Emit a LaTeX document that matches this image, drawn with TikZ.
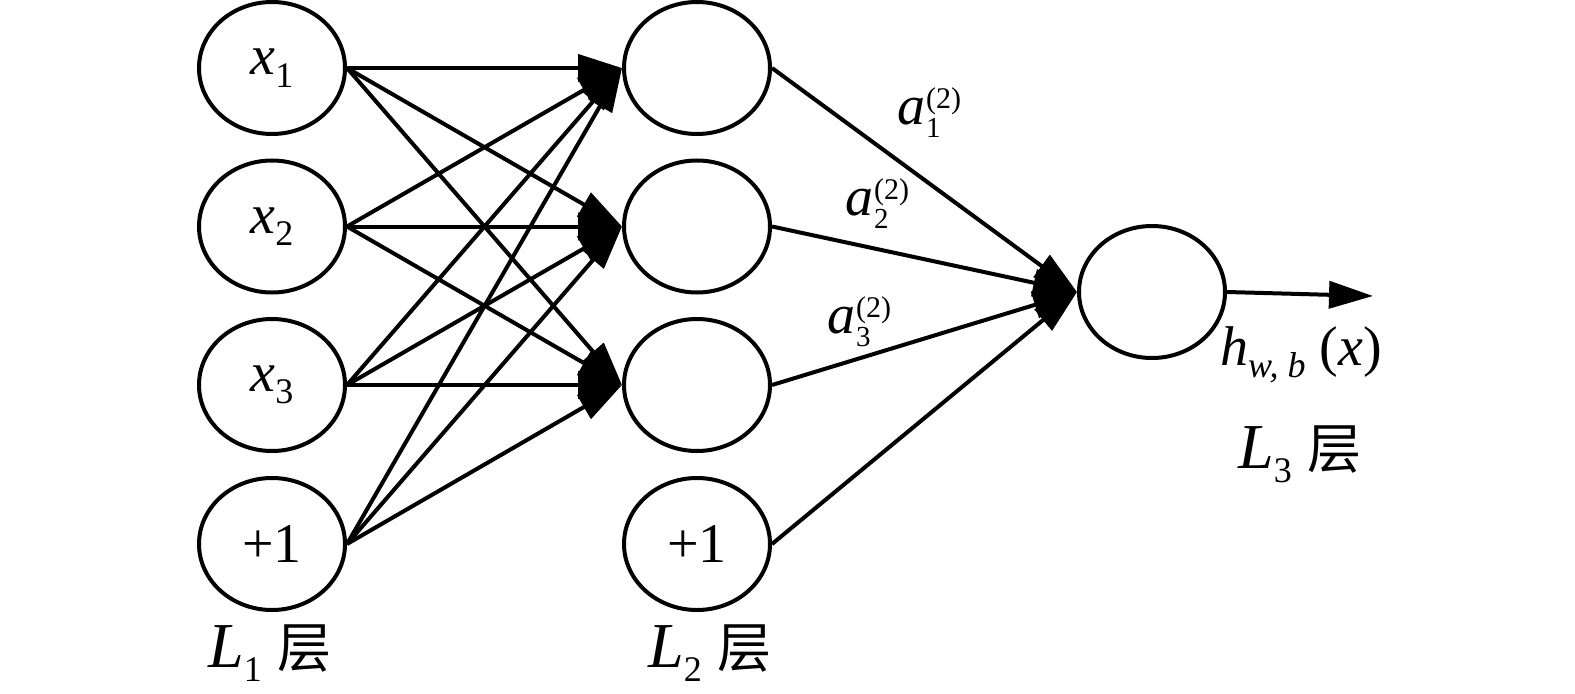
\documentclass[tikz,border=0pt]{standalone}
\usepackage{fontspec}
\setmainfont{Liberation Serif}
\newfontfamily\cjk{Noto Sans CJK SC}
\usetikzlibrary{shapes.geometric,arrows.meta}
\newcommand\sbs[1]{\raisebox{-0.22em}{\fontsize{36bp}{36bp}\selectfont #1}}
\newcommand\asub[1]{\raisebox{-13bp}{\fontsize{29bp}{29bp}\selectfont #1}}
\newcommand\asup[1]{\raisebox{16bp}{\fontsize{30bp}{30bp}\selectfont #1}}
\newcommand\alab[1]{\textit{a}\kern1bp\rlap{\asup{(2)}}\asub{#1}}
\newcommand\ceng{{\cjk\fontsize{54bp}{54bp}\selectfont 层}}
\begin{document}
\begin{tikzpicture}[x=1bp,y=-1bp,
  neuron/.style={ellipse,draw,line width=4bp,minimum width=146bp,minimum height=132bp,inner sep=0pt,
    font=\fontsize{56bp}{60bp}\selectfont},
  conn/.style={line width=4bp,-{Triangle[length=44bp,width=27bp]}},
  lab/.style={anchor=base west,inner sep=0pt,font=\fontsize{56bp}{60bp}\selectfont},
  llab/.style={anchor=base west,inner sep=0pt,font=\fontsize{64bp}{70bp}\selectfont}]
\useasboundingbox (0,0) rectangle (1575,694);
% layer 1
\node[neuron] (i1) at (272,68) {\textit{x}\sbs{1}};
\node[neuron] (i2) at (272,226.5) {\textit{x}\sbs{2}};
\node[neuron] (i3) at (272,385) {\textit{x}\sbs{3}};
\node[neuron] (i4) at (272,544) {+1};
% layer 2
\node[neuron] (h1) at (697,68) {};
\node[neuron] (h2) at (697,226.5) {};
\node[neuron] (h3) at (697,385) {};
\node[neuron] (h4) at (697,544) {+1};
% layer 3
\node[neuron] (o) at (1152,292) {};
\coordinate (out) at (1373,296);
% connections
\foreach \i in {1,2,3,4}{
  \foreach \j in {1,2,3}{
    \draw[conn] (i\i.east) -- (h\j.west);
  }
}
\foreach \j in {1,2,3,4}{
  \draw[conn] (h\j.east) -- (o.west);
}
\draw[conn] (o.east) -- (out);
% labels
\node[lab] (a1) at (897,125) {\alab{1}};
\node[lab] (a2) at (845,215) {\alab{2}};
\node[lab] (a3) at (827,333) {\alab{3}};
\node[lab] (hwb) at (1220,365) {\textit{h}\sbs{\itshape w, b} (\textit{x})};
\node[llab] (L1) at (208,667) {\textit{L}\sbs{1} \ceng};
\node[llab] (L2) at (648,667) {\textit{L}\sbs{2} \ceng};
\node[llab] (L3) at (1238,468) {\textit{L}\sbs{3} \ceng};
\end{tikzpicture}
\end{document}
